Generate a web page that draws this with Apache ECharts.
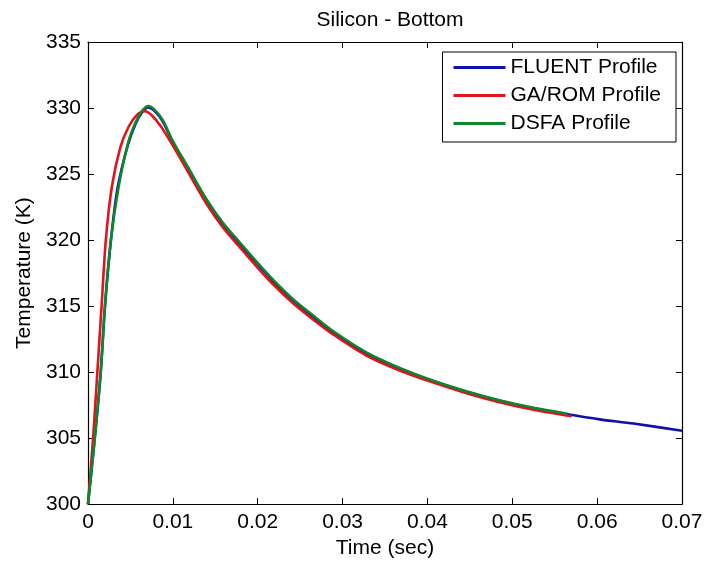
<!DOCTYPE html>
<html>
<head>
<meta charset="utf-8">
<script src="https://cdn.jsdelivr.net/npm/echarts@6/dist/echarts.min.js"></script>
<style>
  html, body { margin: 0; padding: 0; background: #fff; }
  #main { width: 707px; height: 564px; }
</style>
</head>
<body>
<div id="main"></div>
<script>
var chartDom = document.getElementById('main');
var myChart = echarts.init(chartDom);
var option;

// FLUENT Profile (blue)
let fluentTime = [0, 0.0008, 0.0015, 0.002, 0.0027, 0.0035, 0.0047, 0.0056, 0.0064, 0.0071, 0.0078, 0.0088, 0.01, 0.0118, 0.014, 0.0159, 0.0179, 0.0198, 0.0218, 0.0242, 0.0266, 0.029, 0.0328, 0.0368, 0.0407, 0.0446, 0.0486, 0.0525, 0.0565, 0.0603, 0.0643, 0.07];
let fluentTemp = [300, 305, 310, 315, 320, 324, 327.2, 328.8, 329.7, 330.05, 329.8, 329.0, 327.4, 325.4, 322.95, 321.2, 319.7, 318.3, 316.9, 315.4, 314.15, 312.95, 311.4, 310.25, 309.3, 308.5, 307.8, 307.25, 306.8, 306.42, 306.1, 305.55];

// GA/ROM Profile (red)
let gaTime = [0, 0.0006, 0.0011, 0.0016, 0.0021, 0.0028, 0.0038, 0.0048, 0.0058, 0.0067, 0.0075, 0.0086, 0.01, 0.0118, 0.014, 0.0159, 0.0179, 0.0198, 0.0218, 0.0242, 0.0266, 0.029, 0.0328, 0.0368, 0.0407, 0.0446, 0.0486, 0.0525, 0.057];
let gaTemp = [300, 305, 310, 315, 320, 324, 327, 328.6, 329.5, 329.75, 329.45, 328.6, 327.15, 325.15, 322.7, 320.95, 319.45, 318.05, 316.65, 315.2, 313.95, 312.8, 311.25, 310.1, 309.2, 308.4, 307.7, 307.15, 306.65];

// DSFA Profile (green)
let dsfaTime = [0, 0.0008, 0.0015, 0.002, 0.0027, 0.0036, 0.0047, 0.0056, 0.0064, 0.0071, 0.0078, 0.0088, 0.01, 0.0118, 0.014, 0.0159, 0.0179, 0.0198, 0.0218, 0.0242, 0.0266, 0.029, 0.0328, 0.0368, 0.0407, 0.0446, 0.0486, 0.0525, 0.0565];
let dsfaTemp = [300, 305, 310, 315, 320, 324, 327.3, 328.9, 329.8, 330.15, 329.9, 329.1, 327.5, 325.5, 323.05, 321.3, 319.8, 318.4, 317.0, 315.5, 314.25, 313.05, 311.5, 310.3, 309.35, 308.55, 307.85, 307.3, 306.85];

let font = '"Liberation Sans", Arial, sans-serif';

function pairs(t, v) {
  let out = [];
  for (var i = 0; i < t.length; i++) out.push([t[i], v[i]]);
  return out;
}

let tickStyle = { show: true, inside: true, length: 6, lineStyle: { color: '#000', width: 1 } };
let lineAx = { show: true, onZero: false, lineStyle: { color: '#000', width: 1.2 } };

function curve(name, t, v, color) {
  return {
    name: name, type: 'line', data: pairs(t, v),
    showSymbol: false, symbol: 'none', smooth: 0.3,
    lineStyle: { color: color, width: 2.6 }, itemStyle: { color: color }
  };
}

option = {
  animation: false,
  backgroundColor: '#fff',
  title: {
    text: 'Silicon - Bottom',
    left: 385,
    top: 5,
    textAlign: 'center',
    textStyle: { fontFamily: font, fontSize: 21, fontWeight: 'normal', color: '#000' }
  },
  grid: { left: 88, right: 25, top: 42, bottom: 59 },
  legend: {
    orient: 'vertical',
    right: 31,
    top: 52,
    padding: [5, 15, 8, 11],
    itemGap: 7,
    itemWidth: 52,
    itemHeight: 3,
    icon: 'rect',
    borderColor: '#000',
    borderWidth: 1,
    borderRadius: 0,
    backgroundColor: '#fff',
    textStyle: { fontFamily: font, fontSize: 21, color: '#000', lineHeight: 21 },
    data: ['FLUENT Profile', 'GA/ROM Profile', 'DSFA Profile']
  },
  xAxis: [
    {
      type: 'value', min: 0, max: 0.07, interval: 0.01,
      name: 'Time (sec)', nameLocation: 'middle', nameGap: 32,
      nameTextStyle: { fontFamily: font, fontSize: 21, color: '#000' },
      axisLine: lineAx, axisTick: tickStyle, splitLine: { show: false },
      axisLabel: { fontFamily: font, fontSize: 21, color: '#000', margin: 8 }
    },
    {
      type: 'value', position: 'top', min: 0, max: 0.07, interval: 0.01,
      axisLine: lineAx, axisTick: tickStyle, splitLine: { show: false },
      axisLabel: { show: false }
    }
  ],
  yAxis: [
    {
      type: 'value', min: 300, max: 335, interval: 5,
      name: 'Temperature (K)', nameLocation: 'middle', nameGap: 52,
      nameTextStyle: { fontFamily: font, fontSize: 21, color: '#000' },
      axisLine: lineAx, axisTick: tickStyle, splitLine: { show: false },
      axisLabel: { fontFamily: font, fontSize: 21, color: '#000', margin: 7 }
    },
    {
      type: 'value', position: 'right', min: 300, max: 335, interval: 5,
      axisLine: lineAx, axisTick: tickStyle, splitLine: { show: false },
      axisLabel: { show: false }
    }
  ],
  series: [
    curve('FLUENT Profile', fluentTime, fluentTemp, '#1010b0'),
    curve('GA/ROM Profile', gaTime, gaTemp, '#e3121c'),
    curve('DSFA Profile', dsfaTime, dsfaTemp, '#0d862c')
  ]
};

option && myChart.setOption(option);
</script>
</body>
</html>
